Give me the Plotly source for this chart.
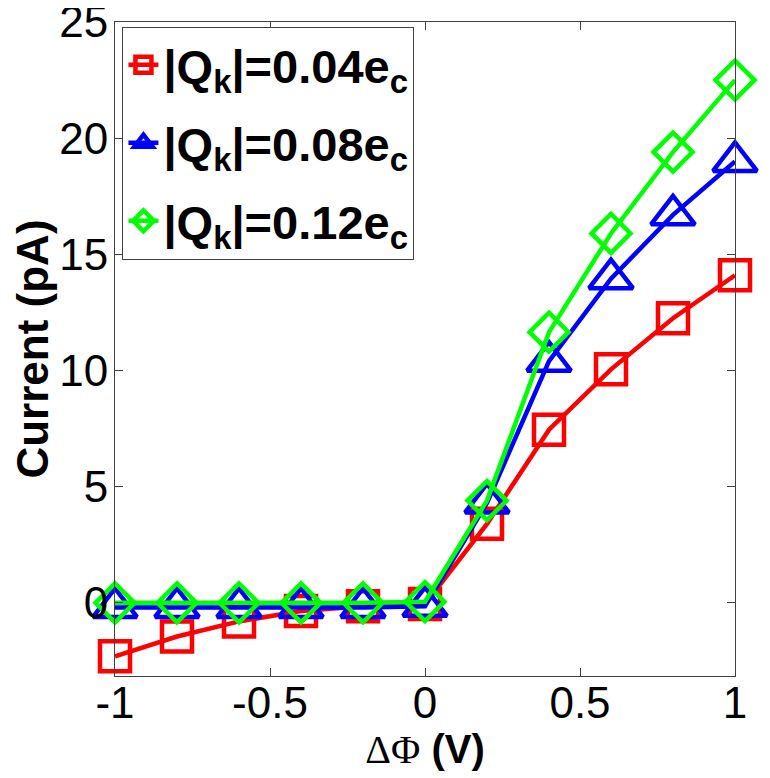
import plotly.graph_objects as go

# bias voltage (V)
delta_phi = [-1.0, -0.8, -0.6, -0.4, -0.2, 0.0, 0.2, 0.4, 0.6, 0.8, 1.0]

# current (pA) for each |Q_k|
current_q004 = [-2.3, -1.45, -0.8, -0.35, -0.15, -0.05, 3.4, 7.45, 10.05, 12.25, 14.1]
current_q008 = [-0.2, -0.2, -0.2, -0.2, -0.2, -0.15, 4.3, 10.4, 13.95, 16.7, 19.0]
current_q012 = [0.0, 0.0, 0.0, 0.0, 0.0, 0.05, 4.4, 11.65, 15.9, 19.4, 22.5]

labels = [
    "<b>|Q<sub>k</sub>|=0.04e<sub>c</sub></b>",
    "<b>|Q<sub>k</sub>|=0.08e<sub>c</sub></b>",
    "<b>|Q<sub>k</sub>|=0.12e<sub>c</sub></b>",
]

x_ticks = [-1, -0.5, 0, 0.5, 1]
x_tick_text = ["-1", "-0.5", "0", "0.5", "1"]
y_ticks = [0, 5, 10, 15, 20, 25]

FONT = "Liberation Sans, Arial, sans-serif"

series = [
    (current_q004, labels[0], "#ff0000", "square-open", 30),
    (current_q008, labels[1], "#0000ff", "triangle-up-open", 38),
    (current_q012, labels[2], "#00ff00", "diamond-open", 30),
]

fig = go.Figure()
for i, (vals, name, color, symbol, size) in enumerate(series):
    fig.add_trace(go.Scatter(
        x=delta_phi,
        y=vals,
        mode="lines+markers",
        name=name,
        legendgroup=f"g{i}",
        line=dict(color=color, width=4.5),
        marker=dict(symbol=symbol, size=size, color=color,
                    line=dict(color=color, width=4.5)),
        cliponaxis=False,
    ))

axis_common = dict(
    showline=True,
    linecolor="#404040",
    linewidth=1,
    mirror="ticks",
    ticks="inside",
    ticklen=8,
    tickcolor="#404040",
    showgrid=False,
    zeroline=False,
    automargin=False,
    ticklabeloverflow="allow",
    tickfont=dict(family=FONT, size=44, color="black"),
)

# the page body has an 8px margin, so the figure is a bit smaller than the window
fig.update_layout(
    width=762,
    height=770,
    margin=dict(l=107, r=35, t=14, b=102),
    paper_bgcolor="white",
    plot_bgcolor="white",
    font=dict(family=FONT, color="black"),
    showlegend=True,
    legend=dict(
        x=0.012, y=0.993, xanchor="left", yanchor="top",
        bgcolor="white",
        bordercolor="#404040",
        borderwidth=1,
        font=dict(family=FONT, size=47, color="black"),
        tracegroupgap=14,
        itemwidth=30,
    ),
    xaxis=dict(
        axis_common,
        range=[-1, 1],
        tickvals=x_ticks,
        ticktext=x_tick_text,
        ticklabelstandoff=-12,
        title=dict(
            text='<span style="font-family:Liberation Serif">ΔΦ</span> <b>(V)</b>',
            font=dict(family=FONT, size=40, color="black"),
            standoff=0,
        ),
    ),
    yaxis=dict(
        axis_common,
        range=[-3.15, 25.001],
        tickvals=y_ticks,
        ticklabelstandoff=-3,
        title=dict(
            text="<b>Current (pA)</b>",
            font=dict(family=FONT, size=44, color="black"),
            standoff=6,
        ),
    ),
)

fig.write_html("out.html")
